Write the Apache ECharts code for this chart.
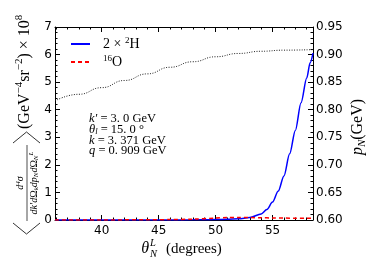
<!DOCTYPE html>
<html><head><meta charset="utf-8">
<script src="https://cdn.jsdelivr.net/npm/echarts@6/dist/echarts.min.js"></script>
<style>html,body{margin:0;padding:0;background:#fff}#c{width:369px;height:277px}</style>
</head><body><div id="c"></div>
<script>
// ---- data ----
const xMin = 35.9, xMax = 58.55;
const xMajorTicks = [40, 45, 50, 55];
const xMinorTicks = [36,37,38,39,41,42,43,44,46,47,48,49,51,52,53,54,56,57,58];

const thetaH = [35.9, 40, 44, 46, 48, 49, 50, 51, 52, 53, 54, 54.5, 55, 55.5, 56, 56.5, 57, 57.5, 58, 58.3, 58.55];
const sigmaH2 = [0, 0, 0.001, 0.003, 0.006, 0.01, 0.015, 0.025, 0.045, 0.09, 0.22, 0.38, 0.65, 1.05, 1.6, 2.4, 3.25, 4.25, 5.15, 5.7, 6.05];

const thetaO = [35.9, 40, 44, 46, 48, 50, 51, 52, 53, 54, 55, 56, 57, 58, 58.55];
const sigmaO16 = [0, 0.002, 0.008, 0.015, 0.03, 0.07, 0.09, 0.095, 0.09, 0.08, 0.075, 0.07, 0.065, 0.065, 0.065];

const thetaP = [35.9, 38, 40, 42, 44, 46, 48, 50, 52, 54, 56, 58.55];
const pN = [0.816, 0.828, 0.840, 0.853, 0.865, 0.877, 0.887, 0.896, 0.902, 0.906, 0.908, 0.909];

const seriesNames = ['H2', 'O16'];
const legendLabels = {H2: '{n|2 × }{u|2}{n|H}', O16: '{u|16}{n|O}'};
const annotations = [
  '{i|k′}{n| = 3. 0 GeV}',
  '{i|θ}{s|l}{n| = 15. 0 °}',
  '{i|k}{n| = 3. 371 GeV}',
  '{i|q}{n| = 0. 909 GeV}'
];

const pairs = (xs, ys) => xs.map((x, i) => [x, ys[i]]);
const SERIF = 'Liberation Serif';
const SANS = 'DejaVu Sans';
const black = '#000';

const chart = echarts.init(document.getElementById('c'), null, {renderer: 'canvas'});

function xAx(pos, ticks, len, showLine, showLabel) {
  return {
    type: 'value', min: xMin, max: xMax, position: pos,
    axisLine: {show: showLine, onZero: false, lineStyle: {color: black, width: 1}},
    axisTick: {show: true, inside: true, length: len, customValues: ticks, lineStyle: {color: black, width: 1}},
    axisLabel: showLabel ? {show: true, customValues: ticks, color: black, fontFamily: SANS, fontSize: 12, margin: 5} : {show: false},
    splitLine: {show: false}
  };
}
function yAx(pos, min, max, interval, fmt) {
  return {
    type: 'value', min: min, max: max, interval: interval, position: pos,
    axisLine: {show: true, onZero: false, lineStyle: {color: black, width: 1}},
    axisTick: {show: true, inside: true, length: 5, lineStyle: {color: black, width: 1}},
    minorTick: {show: true, splitNumber: 5, length: 2.5, lineStyle: {color: black, width: 1}},
    axisLabel: {color: black, fontFamily: SANS, fontSize: 12, margin: 3, formatter: fmt},
    splitLine: {show: false}, minorSplitLine: {show: false}
  };
}

const fracRich = {
  i: {fontFamily: SERIF, fontStyle: 'italic', fontSize: 10, lineHeight: 12, fill: black},
  n: {fontFamily: SERIF, fontSize: 10, lineHeight: 12, fill: black},
  s: {fontFamily: SERIF, fontStyle: 'italic', fontSize: 7, lineHeight: 7, verticalAlign: 'bottom', fill: black},
  u: {fontFamily: SERIF, fontStyle: 'italic', fontSize: 7, lineHeight: 7, verticalAlign: 'top', fill: black}
};

const option = {
  backgroundColor: '#fff',
  animation: false,
  grid: {left: 55, right: 56, top: 27, bottom: 57, containLabel: false},
  legend: {
    left: 70, top: 36, orient: 'vertical', padding: 0, itemGap: 3,
    itemWidth: 19, itemHeight: 10,
    data: seriesNames,
    itemStyle: {opacity: 0, borderWidth: 0},
    formatter: n => legendLabels[n],
    textStyle: {
      padding: [0, 0, 0, 8],
      rich: {
        n: {fontFamily: SERIF, fontSize: 14, lineHeight: 16, color: black},
        u: {fontFamily: SERIF, fontSize: 9, lineHeight: 9, verticalAlign: 'top', color: black}
      }
    }
  },
  xAxis: [
    xAx('bottom', xMajorTicks, 5, true, true),
    xAx('bottom', xMinorTicks, 2.5, false, false),
    xAx('top', xMajorTicks, 5, true, false),
    xAx('top', xMinorTicks, 2.5, false, false)
  ],
  yAxis: [
    yAx('left', 0, 7, 1, v => String(v)),
    yAx('right', 0.6, 0.95, 0.05, v => v.toFixed(2))
  ],
  series: [
    {name: 'H2', type: 'line', xAxisIndex: 0, yAxisIndex: 0, data: pairs(thetaH, sigmaH2),
     symbol: 'none', smooth: 0.3, smoothMonotone: 'x',
     lineStyle: {color: '#0000ff', width: 1.5}, itemStyle: {color: '#0000ff'}, z: 3},
    {name: 'O16', type: 'line', xAxisIndex: 0, yAxisIndex: 0, data: pairs(thetaO, sigmaO16),
     symbol: 'none', smooth: 0.3,
     lineStyle: {color: '#ff0000', width: 1.5, type: [4, 3]}, itemStyle: {color: '#ff0000'}, z: 4},
    {name: 'pN', type: 'line', xAxisIndex: 0, yAxisIndex: 1, data: pairs(thetaP, pN),
     symbol: 'none', smooth: true, smoothMonotone: 'x',
     lineStyle: {color: '#222', width: 1, type: [1, 1.5]}, z: 2}
  ],
  graphic: [
    // annotation block
    ...annotations.map((t, k) => ({
      type: 'text', x: 89, y: 119 + k * 10.7, silent: true,
      style: {
        text: t, align: 'left', verticalAlign: 'middle',
        rich: {
          i: {fontFamily: SERIF, fontStyle: 'italic', fontSize: 12.5, lineHeight: 13, fill: black},
          n: {fontFamily: SERIF, fontSize: 12.5, lineHeight: 13, fill: black},
          s: {fontFamily: SERIF, fontStyle: 'italic', fontSize: 8.5, lineHeight: 8, verticalAlign: 'bottom', fill: black}
        }
      }
    })),
    // x axis name: theta_N^L (degrees)
    {type: 'text', x: 149, y: 249, silent: true,
     style: {text: 'θ', align: 'right', verticalAlign: 'middle', fontFamily: SERIF, fontStyle: 'italic', fontSize: 16, fill: black}},
    {type: 'text', x: 150, y: 243, silent: true,
     style: {text: 'L', align: 'left', verticalAlign: 'middle', fontFamily: SERIF, fontStyle: 'italic', fontSize: 10.5, fill: black}},
    {type: 'text', x: 150, y: 254.5, silent: true,
     style: {text: 'N', align: 'left', verticalAlign: 'middle', fontFamily: SERIF, fontStyle: 'italic', fontSize: 10.5, fill: black}},
    {type: 'text', x: 166, y: 249, silent: true,
     style: {text: '(degrees)', align: 'left', verticalAlign: 'middle', fontFamily: SERIF, fontSize: 15, fill: black}},
    // right axis name
    {type: 'text', x: 358, y: 127, rotation: Math.PI / 2, silent: true,
     style: {text: '{i|p}{s|N}{n|(GeV)}', align: 'center', verticalAlign: 'middle',
       rich: {
         i: {fontFamily: SERIF, fontStyle: 'italic', fontSize: 16, lineHeight: 20, fill: black},
         n: {fontFamily: SERIF, fontSize: 16, lineHeight: 20, fill: black},
         s: {fontFamily: SERIF, fontStyle: 'italic', fontSize: 11, lineHeight: 11, verticalAlign: 'bottom', fill: black}
       }}},
    // left axis name (rotated group)
    {type: 'group', x: 25, y: 123, rotation: Math.PI / 2, silent: true,
     children: [
       {type: 'text', x: -6, y: 0,
        style: {text: '{n|(GeV}{u|−4}{n|sr}{u|−2}{n|) × 10}{u|8}', align: 'left', verticalAlign: 'middle',
          rich: {
            n: {fontFamily: SERIF, fontSize: 16, lineHeight: 22, fill: black},
            u: {fontFamily: SERIF, fontSize: 11, lineHeight: 11, verticalAlign: 'top', fill: black}
          }}},
       {type: 'polyline', shape: {points: [[-20, -12], [-9, 1.5], [-20, 15]]},
        style: {stroke: black, lineWidth: 0.8, fill: null}},
       {type: 'polyline', shape: {points: [[-100, -12], [-111, 1.5], [-100, 15]]},
        style: {stroke: black, lineWidth: 0.8, fill: null}},
       {type: 'line', shape: {x1: -98, y1: 2, x2: -22, y2: 2},
        style: {stroke: black, lineWidth: 0.7}},
       {type: 'text', x: -60, y: -4.5,
        style: {text: '{i|d}{u|4}{i|σ}', align: 'center', verticalAlign: 'middle', rich: fracRich}},
       {type: 'text', x: -60, y: 9,
        style: {text: '{i|dk′d}{n|Ω}{s|k}{i|dp}{s|N}{i|d}{n|Ω}{s|N}{u|L}', align: 'center', verticalAlign: 'middle', rich: fracRich}}
     ]}
  ]
};
chart.setOption(option);
</script>
</body></html>
